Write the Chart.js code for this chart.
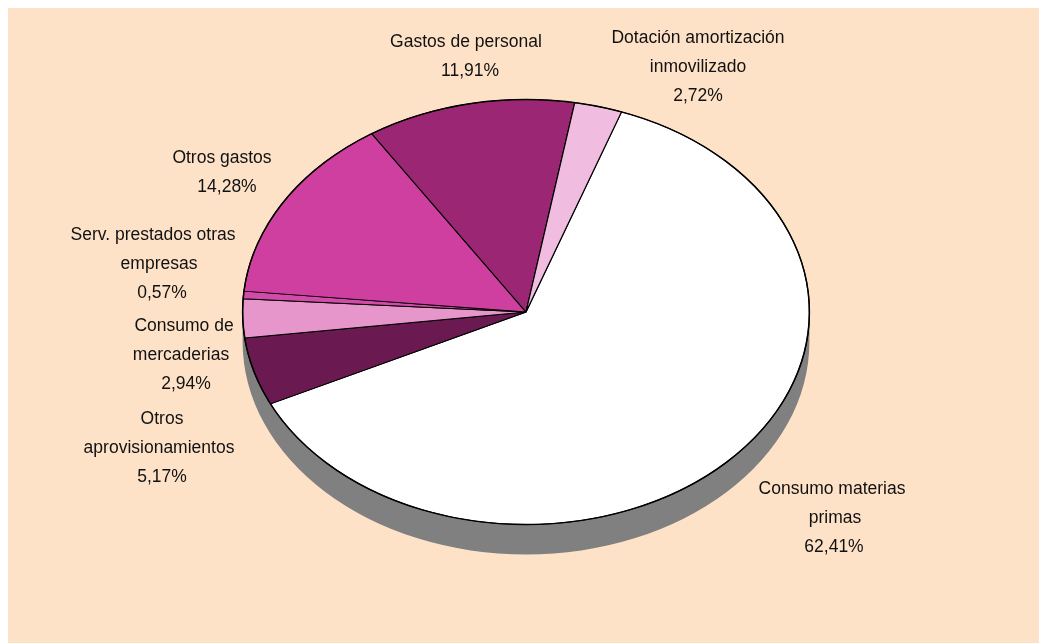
<!DOCTYPE html>
<html>
<head>
<meta charset="utf-8">
<title>Gastos</title>
<script src="https://cdn.jsdelivr.net/npm/chart.js@4/dist/chart.umd.min.js"></script>
<style>
html, body { margin: 0; background: #fff; overflow: hidden; }
canvas { position: absolute; left: 8px; top: 8px; background: #fee2c8; }
</style>
</head>
<body>
<canvas id="myChart" width="1031" height="635"></canvas>
<script>
const categories = ['Consumo materias primas', 'Otros aprovisionamientos', 'Consumo de mercaderias', 'Serv. prestados otras empresas', 'Otros gastos', 'Gastos de personal', 'Dotación amortización inmovilizado'];
const shares = [62.41, 5.17, 2.94, 0.57, 14.28, 11.91, 2.72];
const sliceColors = ['#ffffff', '#6a1a50', '#e696cb', '#d24ba8', '#ce3f9f', '#9b2673', '#f0bcdf'];

// label lines as they wrap in the picture, the percent line comes from shares
const labelLines = [
    ['Consumo materias', 'primas'],
    ['Otros', 'aprovisionamientos'],
    ['Consumo de', 'mercaderias'],
    ['Serv. prestados otras', 'empresas'],
    ['Otros gastos'],
    ['Gastos de personal'],
    ['Dotación amortización', 'inmovilizado']
];
// centre x of each line, y of the first line (page px minus canvas offset)
const labelX = [[824, 827, 826], [154, 151, 154], [176, 173, 178], [145, 151, 154], [214, 219], [458, 462], [690, 690, 690]];
const labelY = [481, 411, 318, 227, 150, 34, 30];

const squash = 0.75;
const depth = 30;

function percent(v){
    return v.toFixed(2).replace('.', ',') + '%';
}

const flatPie = {
    id: 'flatPie',
    beforeDatasetsDraw(chart){
        const ctx = chart.ctx;
        const arc = chart.getDatasetMeta(0).data[0];
        const r = arc.outerRadius;
        ctx.save();
        // side of the disc
        ctx.fillStyle = '#808080';
        ctx.beginPath();
        ctx.ellipse(arc.x, arc.y + depth, r, r * squash, 0, 0, Math.PI * 2);
        ctx.rect(arc.x - r, arc.y, r * 2, depth);
        ctx.fill('nonzero');
        ctx.restore();
        ctx.save();
        ctx.translate(arc.x, arc.y);
        ctx.scale(1, squash);
        ctx.translate(-arc.x, -arc.y);
    },
    afterDatasetsDraw(chart){
        const ctx = chart.ctx;
        ctx.restore();
        const arc = chart.getDatasetMeta(0).data[0];
        ctx.save();
        ctx.strokeStyle = '#000';
        ctx.lineWidth = 1.5;
        ctx.beginPath();
        ctx.ellipse(arc.x, arc.y, arc.outerRadius, arc.outerRadius * squash, 0, 0, Math.PI * 2);
        ctx.stroke();
        ctx.restore();
    }
};

const sideLabels = {
    id: 'sideLabels',
    afterDraw(chart){
        const ctx = chart.ctx;
        ctx.save();
        ctx.font = '17.5px "Liberation Sans", Arial, sans-serif';
        ctx.fillStyle = '#111';
        ctx.textAlign = 'center';
        ctx.textBaseline = 'middle';
        categories.forEach((c, i) => {
            const lines = labelLines[i].concat(percent(shares[i]));
            lines.forEach((line, n) => {
                ctx.fillText(line, labelX[i][n], labelY[i] + n * 29);
            });
        });
        ctx.restore();
    }
};

new Chart(document.getElementById('myChart'), {
    type: 'pie',
    data: {
        labels: categories,
        datasets: [{
            data: shares,
            backgroundColor: sliceColors,
            borderColor: '#000',
            borderWidth: 1.2
        }]
    },
    options: {
        responsive: false,
        animation: false,
        rotation: 19.7,
        layout: { padding: { left: 234, right: 229, top: 20, bottom: 47 } },
        plugins: {
            legend: { display: false },
            tooltip: { enabled: false }
        }
    },
    plugins: [flatPie, sideLabels]
});
</script>
</body>
</html>
